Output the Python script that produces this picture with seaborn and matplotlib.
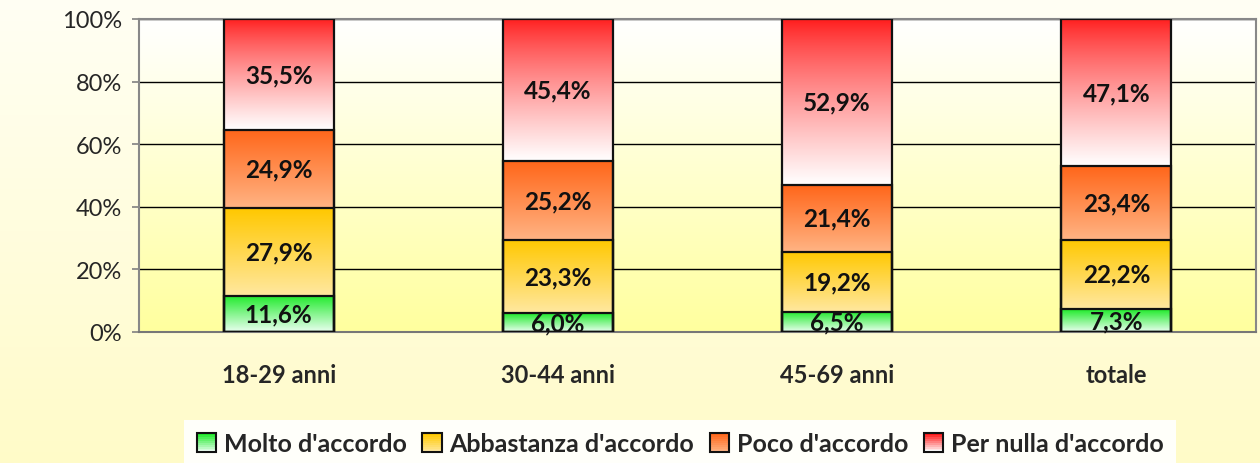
import numpy as np
import pandas as pd
import seaborn as sns
import matplotlib
matplotlib.use("Agg")
import matplotlib.pyplot as plt
from matplotlib.colors import to_rgb
from matplotlib.patches import Rectangle
from matplotlib.legend_handler import HandlerBase

categories = ["18-29 anni", "30-44 anni", "45-69 anni", "totale"]
series = ["Molto d'accordo", "Abbastanza d'accordo", "Poco d'accordo", "Per nulla d'accordo"]
molto = [11.6, 6.0, 6.5, 7.3]
abbastanza = [27.9, 23.3, 19.2, 22.2]
poco = [24.9, 25.2, 21.4, 23.4]
per_nulla = [35.5, 45.4, 52.9, 47.1]
y_ticks = [0, 20, 40, 60, 80, 100]

top_colors = ["#1FEA2A", "#FFC800", "#FF661A", "#FF1A1A"]
bottom_colors = ["#EAFFF0", "#FFE8A0", "#FFB484", "#FFFFFF"]

sns.set_theme(style="white")
plt.rcParams["font.family"] = ["Lato", "DejaVu Sans"]

vals = np.array([molto, abbastanza, poco, per_nulla])  # series x categories
norm = vals / vals.sum(axis=0) * 100
cum = np.cumsum(norm, axis=0)

fig = plt.figure(figsize=(12.6, 4.64), dpi=100)

# figure background gradient
bg = fig.add_axes([0, 0, 1, 1], zorder=-10)
grad = np.linspace(0, 1, 256)[:, None]
c_top = np.array(to_rgb("#FFFFF4"))
c_bot = np.array(to_rgb("#FFFBC8"))
img = c_top[None, None, :] * (1 - grad[:, :, None]) + c_bot[None, None, :] * grad[:, :, None]
bg.imshow(img, aspect="auto", extent=[0, 1, 0, 1])
bg.set_axis_off()

ax = fig.add_axes([139 / 1260, 1 - 333 / 464, (1256 - 139) / 1260, (333 - 20) / 464])
ax.set_zorder(1)
ax.patch.set_facecolor("none")


def vgrad(top, bottom, gamma=1.0):
    t = (np.linspace(0, 1, 256) ** gamma)[:, None, None]
    a = np.array(to_rgb(top))[None, None, :]
    b = np.array(to_rgb(bottom))[None, None, :]
    return a * (1 - t) + b * t  # row 0 = top (imshow origin upper)


# plot area gradient
ax.imshow(vgrad("#FFFFFF", "#FFFF9E"), aspect="auto", extent=[-0.5, 3.5, 0, 100], zorder=0)

layer_patches = {}
for i in range(3, -1, -1):
    df = pd.DataFrame({"cat": categories, "val": cum[i]})
    n0 = len(ax.patches)
    sns.barplot(data=df, x="cat", y="val", order=categories, ax=ax, width=0.394,
                facecolor="none", edgecolor="#111111", linewidth=1.6, zorder=3)
    layer_patches[i] = ax.patches[n0:]

gammas = [1.0, 1.0, 1.0, 0.8]
for i in range(4):
    for j, p in enumerate(layer_patches[i]):
        x0, w = p.get_x(), p.get_width()
        y0 = cum[i - 1][j] if i > 0 else 0
        y1 = cum[i][j]
        ax.imshow(vgrad(top_colors[i], bottom_colors[i], gammas[i]), aspect="auto",
                  extent=[x0, x0 + w, y0, y1], zorder=2, interpolation="bilinear")
        ax.text(x0 + w / 2, (y0 + y1) / 2, f"{vals[i][j]:.1f}%".replace(".", ","),
                ha="center", va="center", fontsize=17.5, fontweight="bold", color="#111111", zorder=5)

ax.set_xlim(-0.5, 3.5)
ax.set_ylim(0, 100)
ax.set_yticks(y_ticks)
ax.set_yticklabels([f"{v}%" for v in y_ticks])
ax.set_xlabel("")
ax.set_ylabel("")
ax.set_axisbelow(True)
ax.yaxis.grid(True, color="#000000", linewidth=1.0)
ax.xaxis.grid(False)
ax.set_xticks([-0.5, 0.5, 1.5, 2.5, 3.5], minor=True)
ax.tick_params(axis="x", which="major", length=0, pad=22, labelsize=17)
ax.tick_params(axis="x", which="minor", length=5, width=1.2, color="#808080", direction="out")
ax.tick_params(axis="y", length=5, width=1.2, color="#808080", direction="out", pad=7, labelsize=17,
               left=True)
for lab in ax.get_xticklabels():
    lab.set_fontweight("bold")
for s in ["left", "top", "right", "bottom"]:
    ax.spines[s].set_visible(True)
    ax.spines[s].set_color("#888888")
    ax.spines[s].set_linewidth(1.5)
ax.spines["bottom"].set_color("#777777")


class GradHandler(HandlerBase):
    def create_artists(self, legend, orig_handle, xdescent, ydescent, width, height, fontsize, trans):
        top, bottom = orig_handle._gtop, orig_handle._gbot
        a = np.array(to_rgb(top))
        b = np.array(to_rgb(bottom))
        n = 10
        arts = []
        side = min(width, height)
        x0 = -xdescent + (width - side) / 2
        y0 = -ydescent + (height - side) / 2
        for k in range(n):
            t = k / (n - 1)
            col = a * (1 - t) + b * t
            r = Rectangle((x0, y0 + side * (n - 1 - k) / n), side, side / n,
                          facecolor=col, edgecolor="none", transform=trans)
            arts.append(r)
        arts.append(Rectangle((x0, y0), side, side, facecolor="none", edgecolor="#111111",
                              linewidth=1.5, transform=trans))
        return arts


handles = []
for i in range(4):
    h = Rectangle((0, 0), 1, 1)
    h._gtop = top_colors[i]
    h._gbot = bottom_colors[i]
    handles.append(h)

leg = fig.legend(handles, series, loc="center", bbox_to_anchor=(680 / 1260, 1 - 445 / 464), ncol=4,
                 handler_map={Rectangle: GradHandler()}, frameon=True, fancybox=False,
                 facecolor="#FFFFFA", edgecolor="none", framealpha=1,
                 prop={"weight": "bold", "size": 18}, handlelength=0.8, handleheight=0.8,
                 handletextpad=0.3, columnspacing=0.6, borderpad=0.5)

fig.savefig("out.png", dpi=100)
